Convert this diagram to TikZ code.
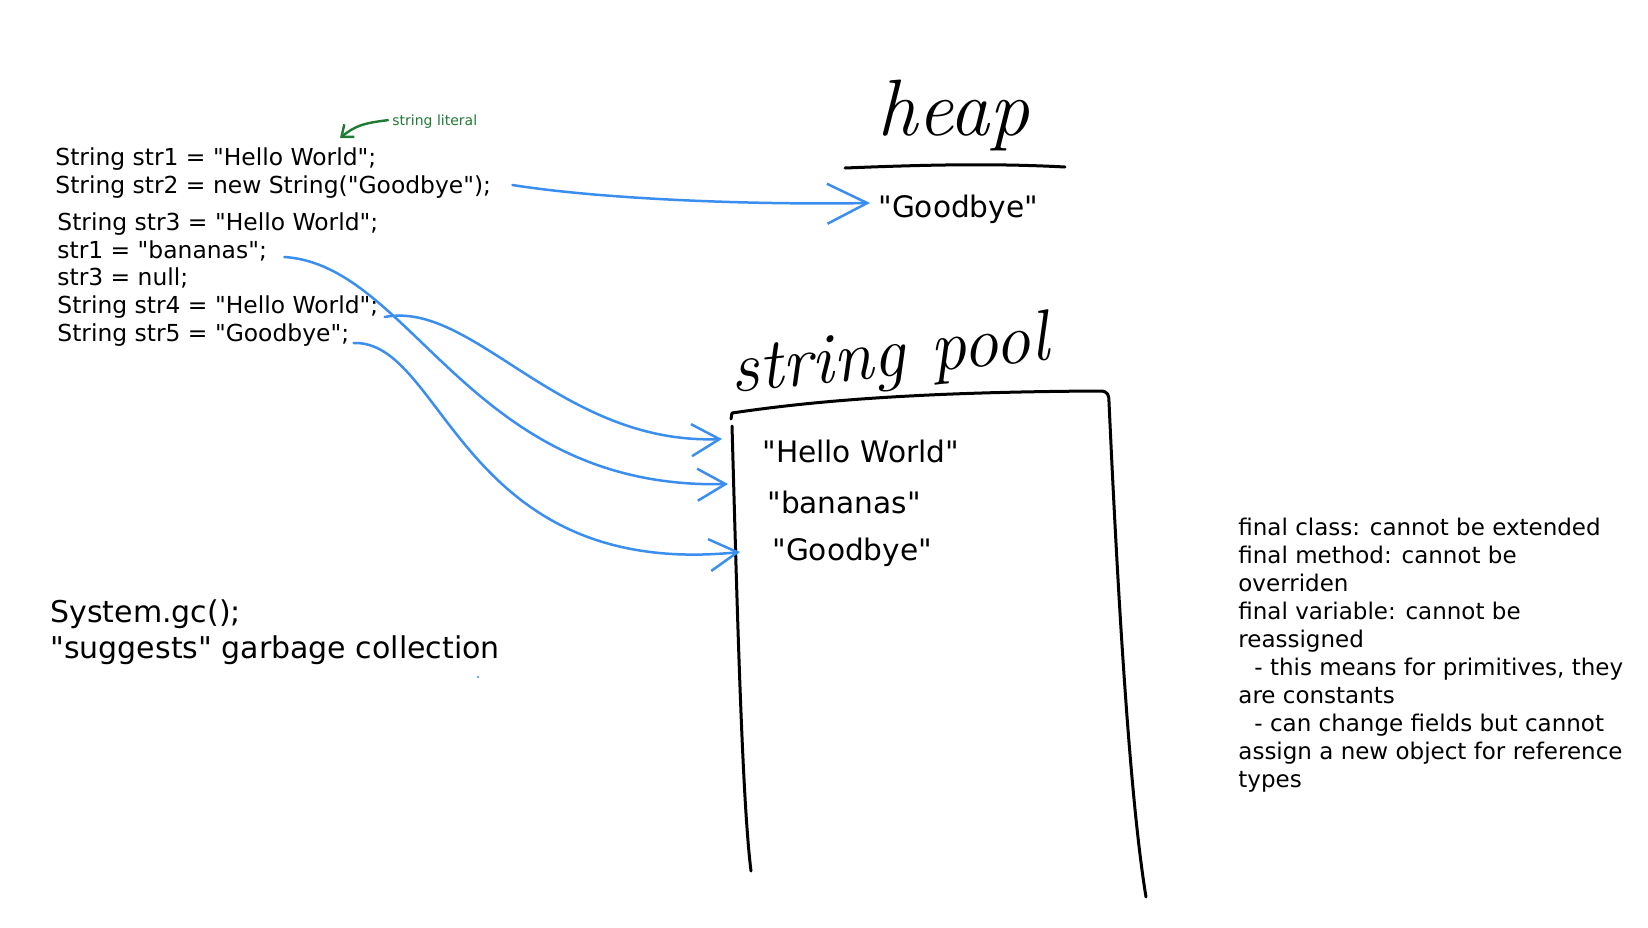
\documentclass[tikz,border=0pt]{standalone}
\usepackage{fontspec}
\setmainfont{DejaVu Sans}[Ligatures=TeXOff]
\usepackage{xcolor}
\usepackage{tikz}
\usetikzlibrary{arrows.meta}
\definecolor{inkblue}{HTML}{3A8EF0}
\definecolor{inkgreen}{HTML}{1F7A34}
\newcommand{\handwrite}[1]{\fontfamily{lmr}\fontshape{it}\fontsize{#1}{#1}\selectfont}

\begin{document}
\begin{tikzpicture}[x=0.5pt, y=-0.5pt,
    every node/.style={inner sep=0pt, anchor=base west},
    code/.style={font=\fontsize{11.7}{14}\selectfont},
    poolstr/.style={font=\fontsize{14.8}{18}\selectfont},
    bigtext/.style={font=\fontsize{15}{18.5}\selectfont},
    hand/.style={line width=1.5pt, line cap=round, line join=round},
    link/.style={draw=inkblue, line width=1.25pt, line cap=round, -{Straight Barb[length=14pt,width=16pt]}}]
    \useasboundingbox (0,0) rectangle (1648,927);

    \node[code] (l1) at (55,165) {String str1 = "Hello World";};
    \node[code] (l2) at (55,193) {String str2 = new String("Goodbye");};
    \node[code] (l3) at (57,230) {String str3 = "Hello World";};
    \node[code] (l4) at (57,258) {str1 = "bananas";};
    \node[code] (l5) at (57,285) {str3 = null;};
    \node[code] (l6) at (57,313) {String str4 = "Hello World";};
    \node[code] (l7) at (57,341) {String str5 = "Goodbye";};
    \node[font=\fontsize{7}{8}\selectfont, text=inkgreen] (lit) at (392,125) {string literal};

    \node[font={\handwrite{40}}] (heap) at (877,135) {heap};
    \node[poolstr] (hg) at (878,217) {"Goodbye"};

    \node[font={\handwrite{36}}, rotate=6] (pool) at (732,393) {string pool};
    \node[poolstr] (hw) at (762,462) {"Hello World"};
    \node[poolstr] (bn) at (767,513) {"bananas"};
    \node[poolstr] (gb) at (772,560) {"Goodbye"};

    \node[bigtext] (gc) at (50,622) {System.gc();};
    \node[bigtext] (gcnote) at (50,658) {"suggests" garbage collection};

    \node[font=\fontsize{11.5}{14}\selectfont, align=left, anchor=north west] (finalnotes) at (1238,518) {final class: cannot be extended\\final method: cannot be\\overriden\\final variable: cannot be\\reassigned\\\hspace*{8pt}- this means for primitives, they\\are constants\\\hspace*{8pt}- can change fields but cannot\\assign a new object for reference\\types};

    \draw[hand] (845,168) .. controls (920,165) and (990,163) .. (1065,167);
    \draw[hand] (731,419) -- (732,413) .. controls (800,403) and (900,392) .. (1100,391) .. controls (1108,391) and (1109,395) .. (1109,402) .. controls (1118,600) and (1130,800) .. (1146,897);
    \draw[hand] (732,426) .. controls (737,600) and (742,800) .. (751,871);

    \draw[draw=inkgreen, line width=1.2pt, line cap=round, -{Straight Barb[length=5pt,width=8pt]}] ([shift={(-4,-1)}]lit.west) .. controls +(-25,3) and +(15,-12) .. ([shift={(285,-27)}]l1.base west);
    \draw[link, -{Straight Barb[length=20pt,width=20pt]}] ([shift={(21,-8)}]l2.base east) .. controls +(88,14) and +(-120,2) .. ([shift={(-8,-14)}]hg.base west);
    \draw[link] ([shift={(17,-1)}]l4.base east) .. controls +(128,8) and +(-258,6) .. ([shift={(-39,-29)}]bn.base west);
    \draw[link] ([shift={(6,4)}]l6.base east) .. controls +(89,-17) and +(-162,6) .. ([shift={(-40,-23)}]hw.base west);
    \draw[link] ([shift={(4,2)}]l7.base east) .. controls +(91,-3) and +(-280,28) .. ([shift={(-32,-8)}]gb.base west);
    \fill[inkblue] (478,677) circle (1.2);
  \end{tikzpicture}
\end{document}
